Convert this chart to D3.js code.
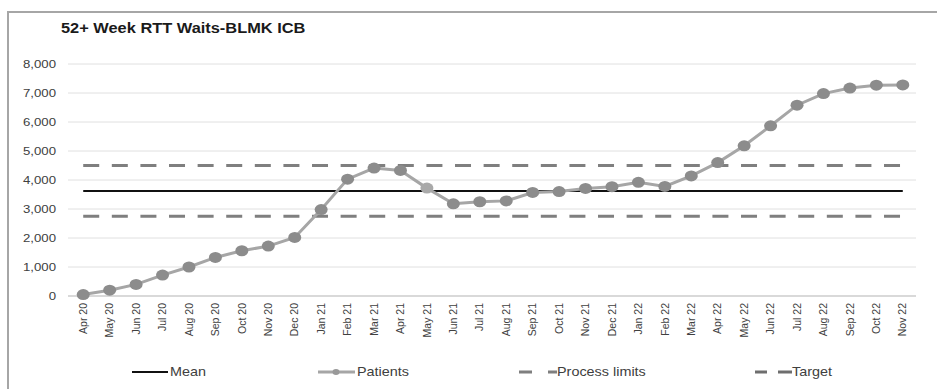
<!DOCTYPE html>
<html>
<head>
<meta charset="utf-8">
<script src="https://cdn.jsdelivr.net/npm/d3@7"></script>
<style>
  html, body { margin: 0; padding: 0; background: #fff; }
  svg { display: block; }
  text { font-family: "Liberation Sans", Arial, sans-serif; }
</style>
</head>
<body>
<svg id="chart" width="937" height="389"></svg>
<script>
// Monthly count of patients waiting 52+ weeks (RTT), BLMK ICB
const months = [
  "Apr 20","May 20","Jun 20","Jul 20","Aug 20","Sep 20","Oct 20","Nov 20","Dec 20",
  "Jan 21","Feb 21","Mar 21","Apr 21","May 21","Jun 21","Jul 21","Aug 21","Sep 21",
  "Oct 21","Nov 21","Dec 21","Jan 22","Feb 22","Mar 22","Apr 22","May 22","Jun 22",
  "Jul 22","Aug 22","Sep 22","Oct 22","Nov 22"
];
const patients = [
  50, 200, 400, 720, 1000, 1330, 1560, 1720, 2020,
  2980, 4030, 4410, 4330, 3720, 3180, 3250, 3280, 3570,
  3600, 3710, 3770, 3920, 3780, 4140, 4600, 5180, 5870,
  6580, 6980, 7170, 7270, 7280
];
const meanValue = 3620;
const processLimits = [4500, 2750];
const yTicks = [0, 1000, 2000, 3000, 4000, 5000, 6000, 7000, 8000];
const legendItems = ["Mean", "Patients", "Process limits", "Target"];

const svg = d3.select("#chart");
const SX = 1.2; // horizontal stretch applied to glyphs

// frame
svg.append("rect")
  .attr("x", 8).attr("y", 12).attr("width", 940).attr("height", 390)
  .attr("fill", "#fff").attr("stroke", "#a6a6a6").attr("stroke-width", 2);

// title
svg.append("text")
  .attr("transform", "translate(61,33) scale(1.13,1)")
  .attr("font-family", "Carlito, 'Open Sans', sans-serif")
  .attr("font-weight", 700).attr("font-size", 14.5).attr("fill", "#1a1a1a")
  .text("52+ Week RTT Waits-BLMK ICB");

const x = d3.scalePoint().domain(months).range([70, 916]).padding(0.5);
const y = d3.scaleLinear().domain([0, 8000]).range([296, 64]);

// gridlines
svg.append("g").selectAll("line").data(yTicks).join("line")
  .attr("x1", 68).attr("x2", 916)
  .attr("y1", d => y(d)).attr("y2", d => y(d))
  .attr("stroke", d => d === 0 ? "#cccccc" : "#e0e0e0").attr("stroke-width", d => d === 0 ? 1.5 : 1);

// y-axis labels
svg.append("g").selectAll("text").data(yTicks).join("text")
  .attr("transform", d => "translate(56," + y(d) + ") scale(" + SX + ",1)")
  .attr("dy", "0.35em").attr("text-anchor", "end")
  .attr("font-size", 11).attr("fill", "#404040")
  .text(d3.format(","));

// x-axis labels
svg.append("g").selectAll("text").data(months).join("text")
  .attr("transform", d => "translate(" + x(d) + ",303) rotate(-90)")
  .attr("dy", "0.35em").attr("text-anchor", "end")
  .attr("font-size", 10.5).attr("fill", "#404040")
  .text(d => d);

const x0 = x(months[0]), x1 = x(months[months.length - 1]);

// process limits
svg.append("g").selectAll("line").data(processLimits).join("line")
  .attr("x1", x0).attr("x2", x1 + 1)
  .attr("y1", d => y(d)).attr("y2", d => y(d))
  .attr("stroke", "#7f7f7f").attr("stroke-width", 3)
  .attr("stroke-dasharray", "16,12.6");

// mean
svg.append("line")
  .attr("x1", x0).attr("x2", x1)
  .attr("y1", y(meanValue)).attr("y2", y(meanValue))
  .attr("stroke", "#111").attr("stroke-width", 2);

// patients line + markers
svg.append("path")
  .datum(patients)
  .attr("fill", "none").attr("stroke", "#a6a6a6").attr("stroke-width", 3)
  .attr("d", d3.line().x((d, i) => x(months[i])).y(d => y(d)));

svg.append("g").selectAll("ellipse").data(patients).join("ellipse")
  .attr("cx", (d, i) => x(months[i])).attr("cy", d => y(d))
  .attr("rx", 6.5).attr("ry", 5.5)
  .attr("fill", (d, i) => months[i] === "May 21" ? "#a9a9a9" : "#8c8c8c");

// legend
const ly = 372;
const lg = svg.append("g");
const fs = 12;
function ltext(xp, t) {
  lg.append("text")
    .attr("transform", "translate(" + xp + "," + ly + ") scale(" + SX + ",1)")
    .attr("dy", "0.35em").attr("font-size", fs).attr("fill", "#404040").text(t);
}
// Mean
lg.append("line").attr("x1", 132).attr("x2", 168).attr("y1", ly).attr("y2", ly)
  .attr("stroke", "#111").attr("stroke-width", 2);
ltext(170, legendItems[0]);
// Patients
lg.append("line").attr("x1", 318).attr("x2", 355).attr("y1", ly).attr("y2", ly)
  .attr("stroke", "#a6a6a6").attr("stroke-width", 3);
lg.append("ellipse").attr("cx", 336).attr("cy", ly).attr("rx", 3.5).attr("ry", 3).attr("fill", "#999");
ltext(357, legendItems[1]);
// Process limits
lg.append("line").attr("x1", 519).attr("x2", 557).attr("y1", ly).attr("y2", ly)
  .attr("stroke", "#7f7f7f").attr("stroke-width", 3).attr("stroke-dasharray", "13,16,9");
ltext(557, legendItems[2]);
// Target
lg.append("line").attr("x1", 755).attr("x2", 792).attr("y1", ly).attr("y2", ly)
  .attr("stroke", "#6e6e6e").attr("stroke-width", 3).attr("stroke-dasharray", "12,11,14");
ltext(792, legendItems[3]);
</script>
</body>
</html>
